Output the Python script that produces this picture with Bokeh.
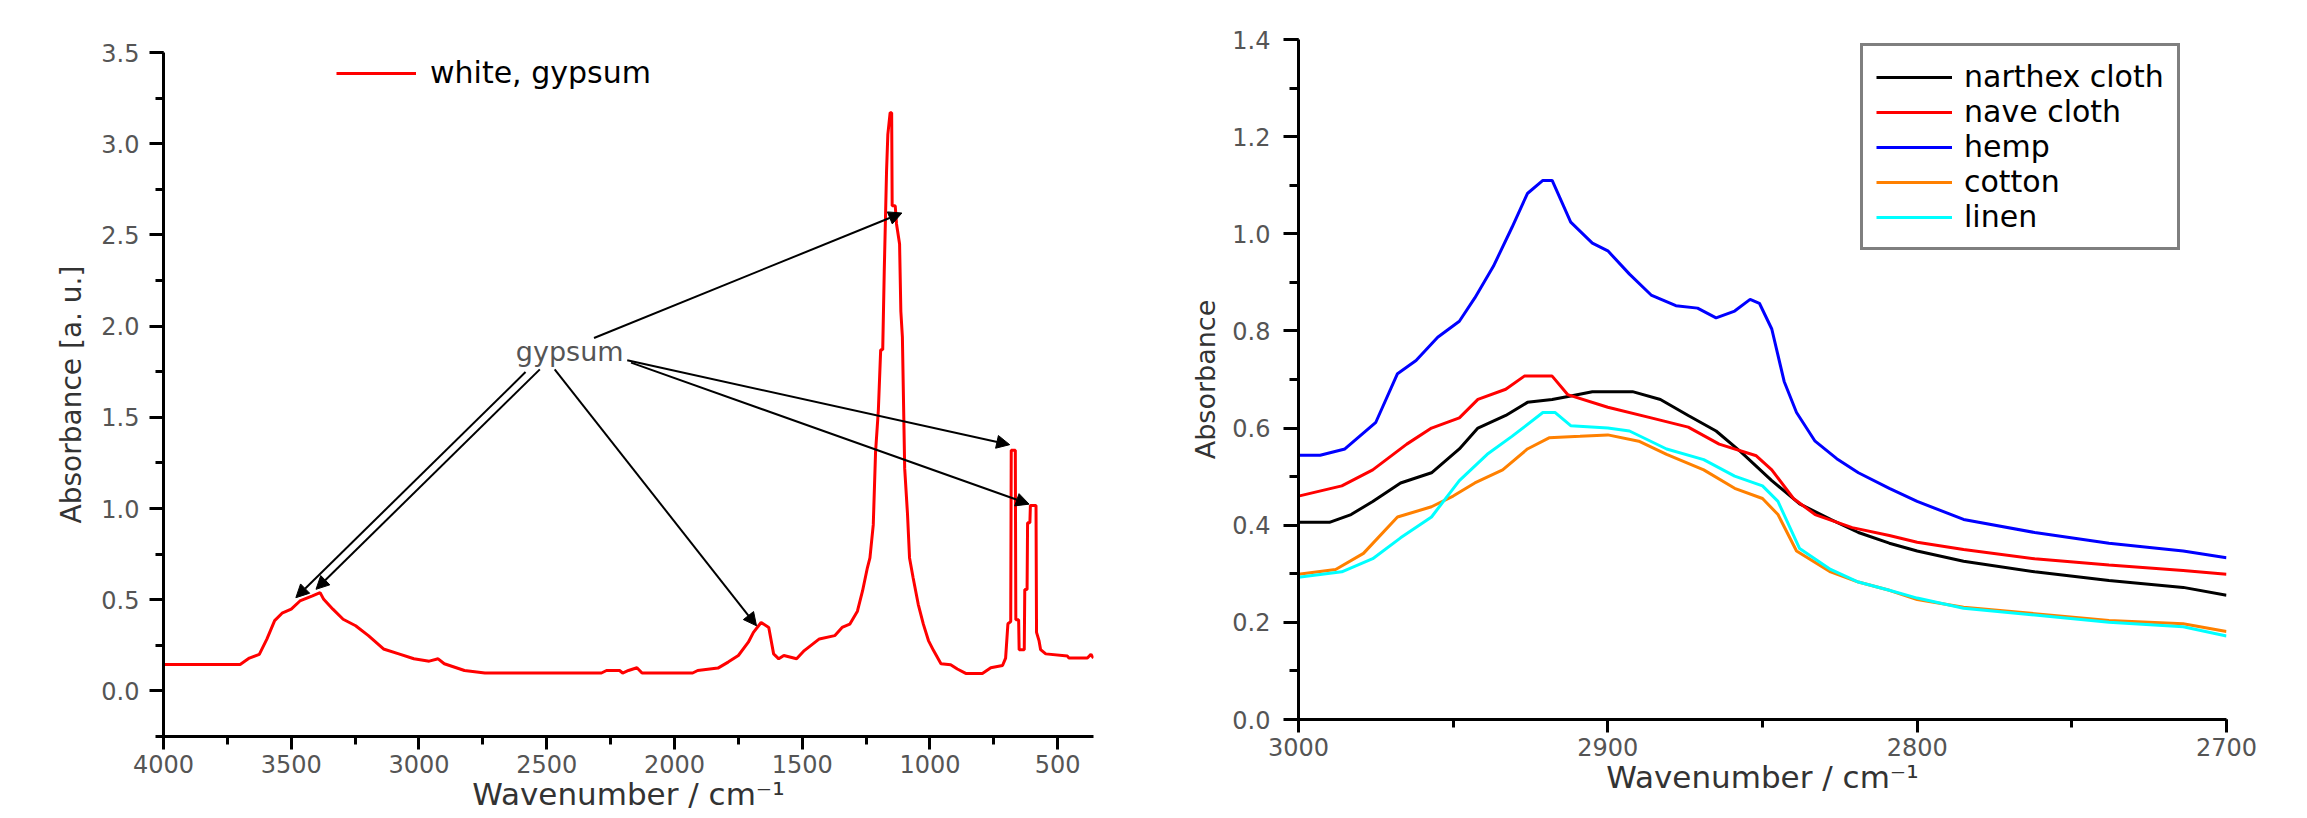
from bokeh.plotting import figure
from bokeh.layouts import row, column
from bokeh.models import (Range1d, SingleIntervalTicker, NumeralTickFormatter,
                          Arrow, NormalHead, ColumnDataSource)
from bokeh.core.properties import value
from bokeh.embed import file_html
from bokeh.resources import INLINE

# ---------------- data: left panel (white, gypsum) ----------------
gyp_wn = [4000, 3700, 3664, 3625, 3595, 3565, 3536, 3500, 3466, 3417, 3387, 3373,
          3337, 3297, 3248, 3198, 3139, 3079, 3020, 2960, 2925, 2901, 2822, 2742,
          2286, 2266, 2215, 2203, 2180, 2147, 2127, 1929, 1909, 1830, 1790, 1750,
          1711, 1691, 1661, 1631, 1612, 1592, 1572, 1522, 1492, 1433, 1373, 1344,
          1314, 1284, 1264, 1245, 1235, 1222, 1213, 1202, 1193, 1185, 1179, 1170,
          1165, 1156, 1150, 1148, 1136, 1131, 1119, 1114, 1108, 1099, 1088, 1080,
          1066, 1046, 1026, 1006, 986, 957, 919, 893, 860, 795, 762, 716, 704, 695,
          684, 682, 666, 664, 653, 651, 631, 629, 620, 618, 609, 607, 585, 583,
          573, 567, 547, 462, 456, 384, 370, 360]
gyp_abs = [0.145, 0.145, 0.18, 0.20, 0.285, 0.385, 0.426, 0.448, 0.493, 0.521, 0.539, 0.502,
           0.448, 0.393, 0.357, 0.303, 0.23, 0.203, 0.176, 0.163, 0.176, 0.149, 0.112, 0.098,
           0.098, 0.112, 0.112, 0.098, 0.112, 0.127, 0.098, 0.098, 0.112, 0.125, 0.158, 0.194,
           0.267, 0.321, 0.375, 0.348, 0.203, 0.176, 0.194, 0.176, 0.221, 0.285, 0.303, 0.348,
           0.366, 0.437, 0.548, 0.675, 0.729, 0.91, 1.31, 1.54, 1.87, 1.87, 2.3, 2.85,
           3.05, 3.17, 3.17, 2.66, 2.66, 2.56, 2.45, 2.08, 1.94, 1.22, 0.97, 0.729,
           0.62, 0.475, 0.366, 0.276, 0.221, 0.149, 0.144, 0.12, 0.096, 0.096, 0.127, 0.139, 0.18, 0.368,
           0.38, 1.32, 1.32, 0.39, 0.39, 0.226, 0.226, 0.556, 0.556, 0.922, 0.922, 1.017, 1.017, 0.321,
           0.274, 0.226, 0.203, 0.191, 0.18, 0.18, 0.20, 0.18]

# annotation arrows (data coordinates): tail -> head
arrow_x0 = [2583, 2527, 2469, 2315, 2185, 2170]
arrow_y0 = [1.748, 1.763, 1.763, 1.935, 1.813, 1.80]
arrow_x1 = [3482, 3403, 1679, 1110, 688, 612]
arrow_y1 = [0.511, 0.557, 0.357, 2.62, 1.35, 1.024]
annot_text = "gypsum"
annot_x, annot_y = 2410, 1.86

# ---------------- data: right panel ----------------
narthex_wn = [3000, 2990, 2983, 2976, 2967, 2957, 2948, 2942, 2933, 2926, 2918, 2912, 2905,
              2892, 2883, 2874, 2865, 2857, 2847, 2838, 2828, 2819, 2809, 2800, 2785, 2762,
              2738, 2714, 2700]
narthex_abs = [0.406, 0.406, 0.422, 0.449, 0.487, 0.508, 0.557, 0.6, 0.626, 0.653, 0.659, 0.666, 0.675,
               0.675, 0.659, 0.626, 0.594, 0.551, 0.492, 0.444, 0.412, 0.385, 0.363, 0.347, 0.326, 0.304,
               0.286, 0.272, 0.256]
nave_wn = [3000, 2986, 2976, 2965, 2957, 2948, 2942, 2933, 2927, 2918, 2913, 2900, 2886, 2874,
           2864, 2852, 2847, 2840, 2833, 2821, 2809, 2800, 2785, 2762, 2738, 2714, 2700]
nave_abs = [0.46, 0.481, 0.514, 0.567, 0.6, 0.621, 0.659, 0.68, 0.707, 0.707, 0.669, 0.643, 0.621, 0.602,
            0.567, 0.543, 0.514, 0.455, 0.422, 0.395, 0.379, 0.365, 0.35, 0.331, 0.318, 0.307, 0.299]
hemp_wn = [3000, 2993, 2985, 2975, 2968, 2962, 2955, 2948, 2943, 2937, 2931, 2926, 2921, 2918,
           2912, 2905, 2900, 2893, 2886, 2878, 2871, 2865, 2859, 2854, 2851, 2847, 2843, 2839,
           2833, 2826, 2819, 2809, 2800, 2785, 2762, 2738, 2714, 2700]
hemp_abs = [0.544, 0.544, 0.557, 0.612, 0.712, 0.739, 0.787, 0.82, 0.868, 0.933, 1.013, 1.083, 1.11, 1.11,
            1.024, 0.981, 0.965, 0.917, 0.874, 0.852, 0.847, 0.827, 0.841, 0.865, 0.857, 0.804, 0.696, 0.632,
            0.573, 0.537, 0.508, 0.476, 0.449, 0.412, 0.385, 0.363, 0.347, 0.333]
cotton_wn = [3000, 2988, 2979, 2968, 2957, 2950, 2943, 2934, 2926, 2919, 2909, 2900, 2890, 2881,
             2869, 2859, 2850, 2845, 2839, 2828, 2819, 2809, 2800, 2785, 2762, 2738, 2714, 2700]
cotton_abs = [0.299, 0.309, 0.342, 0.417, 0.438, 0.46, 0.487, 0.514, 0.557, 0.58, 0.583, 0.586, 0.573, 0.546,
              0.514, 0.476, 0.455, 0.422, 0.347, 0.304, 0.283, 0.266, 0.247, 0.231, 0.218, 0.204, 0.197, 0.181]
linen_wn = [3000, 2986, 2976, 2967, 2957, 2948, 2939, 2931, 2921, 2917, 2912, 2900, 2893, 2881,
            2869, 2859, 2850, 2845, 2838, 2828, 2819, 2809, 2800, 2785, 2762, 2738, 2714, 2700]
linen_abs = [0.293, 0.304, 0.331, 0.374, 0.417, 0.492, 0.546, 0.583, 0.632, 0.632, 0.605, 0.6, 0.594, 0.557,
             0.535, 0.501, 0.481, 0.449, 0.352, 0.309, 0.283, 0.266, 0.25, 0.229, 0.215, 0.2, 0.191, 0.172]

series_names = ["narthex cloth", "nave cloth", "hemp", "cotton", "linen"]
series_colors = ["#000000", "#ff0000", "#0000ff", "#ff8000", "#00ffff"]
series_wn = [narthex_wn, nave_wn, hemp_wn, cotton_wn, linen_wn]
series_abs = [narthex_abs, nave_abs, hemp_abs, cotton_abs, linen_abs]

FONT = "DejaVu Sans"
TICK_COLOR = "#555555"
TITLE_COLOR = "#333333"
X_TITLE = "Wavenumber / cm⁻¹"


def style_axes(p, y_tick_out, y_minor_out, y_lab_standoff, y_title_standoff, y_title_size,
               x_tick_out, x_minor_out, x_lab_standoff, x_title_standoff, x_title_size):
    p.grid.visible = False
    p.outline_line_color = None
    for ax in (p.xaxis[0], p.yaxis[0]):
        ax.axis_line_width = 3
        ax.axis_line_color = "black"
        ax.major_tick_line_width = 3
        ax.minor_tick_line_width = 3
        ax.major_tick_in = 0
        ax.minor_tick_in = 0
        ax.major_label_text_font = FONT
        ax.major_label_text_font_size = "24px"
        ax.major_label_text_color = TICK_COLOR
        ax.axis_label_text_font = FONT
        ax.axis_label_text_font_style = "normal"
        ax.axis_label_text_color = TITLE_COLOR
    ya, xa = p.yaxis[0], p.xaxis[0]
    ya.major_tick_out = y_tick_out
    ya.minor_tick_out = y_minor_out
    ya.major_label_standoff = y_lab_standoff
    ya.axis_label_standoff = y_title_standoff
    ya.axis_label_text_font_size = y_title_size
    xa.major_tick_out = x_tick_out
    xa.minor_tick_out = x_minor_out
    xa.major_label_standoff = x_lab_standoff
    xa.axis_label_standoff = x_title_standoff
    xa.axis_label_text_font_size = x_title_size


# ---------------- left figure ----------------
p1 = figure(width=1150, height=818, output_backend="svg", toolbar_location=None,
            x_range=Range1d(4000, 360), y_range=Range1d(-0.25, 3.5001),
            min_border_left=163, min_border_right=57, min_border_top=52, min_border_bottom=82)
p1.line(gyp_wn, gyp_abs, color="#ff0000", line_width=3, legend_label="white, gypsum")
p1.xaxis.ticker = SingleIntervalTicker(interval=500, num_minor_ticks=2)
p1.yaxis.ticker = SingleIntervalTicker(interval=0.5, num_minor_ticks=2)
p1.xaxis.formatter = NumeralTickFormatter(format="0")
p1.yaxis.formatter = NumeralTickFormatter(format="0.0")
p1.yaxis.axis_label = "Absorbance [a. u.]"
p1.xaxis.axis_label = X_TITLE
style_axes(p1, 14, 8, 10, 10, "28px", 13, 8, 5, 0, "31px")

arrow_src = ColumnDataSource(dict(x0=arrow_x0, y0=arrow_y0, x1=arrow_x1, y1=arrow_y1))
p1.add_layout(Arrow(end=NormalHead(size=13, fill_color="black", line_color="black", line_width=1),
                    x_start="x0", y_start="y0", x_end="x1", y_end="y1", source=arrow_src,
                    line_color="black", line_width=2))
p1.text(x=[annot_x], y=[annot_y], text=[annot_text], text_align="center", text_baseline="middle",
        text_font=value(FONT), text_font_size="27px", text_color="#555555")

lg1 = p1.legend[0]
lg1.location = (173, 646)
lg1.border_line_color = None
lg1.background_fill_alpha = 0
lg1.padding = 0
lg1.margin = 0
lg1.glyph_width = 80
lg1.label_standoff = 14
lg1.label_text_font = FONT
lg1.label_text_font_size = "30px"
lg1.label_text_color = "black"

# ---------------- right figure ----------------
p2 = figure(width=1150, height=818, output_backend="svg", toolbar_location=None,
            x_range=Range1d(3000, 2700), y_range=Range1d(0, 1.4001),
            min_border_left=148, min_border_right=74, min_border_top=39, min_border_bottom=99)
for name, col, wn, ab in zip(series_names, series_colors, series_wn, series_abs):
    p2.line(wn, ab, color=col, line_width=3, legend_label=name)
p2.xaxis.ticker = SingleIntervalTicker(interval=100, num_minor_ticks=2)
p2.yaxis.ticker = SingleIntervalTicker(interval=0.2, num_minor_ticks=2)
p2.xaxis.formatter = NumeralTickFormatter(format="0")
p2.yaxis.formatter = NumeralTickFormatter(format="0.0")
p2.yaxis.axis_label = "Absorbance"
p2.xaxis.axis_label = X_TITLE
style_axes(p2, 15, 9, 13, 8, "27px", 13, 8, 5, 0, "31px")

lg2 = p2.legend[0]
lg2.location = (562, 469)
lg2.border_line_color = "black"
lg2.border_line_width = 3
lg2.background_fill_color = "white"
lg2.background_fill_alpha = 1
lg2.padding = 13
lg2.spacing = 0
lg2.margin = 0
lg2.glyph_width = 76
lg2.label_standoff = 12
lg2.label_text_font = FONT
lg2.label_text_font_size = "30px"
lg2.label_text_color = "black"

layout = row(column(p1), column(p2))
open("out.html", "w").write(file_html(layout, INLINE))
